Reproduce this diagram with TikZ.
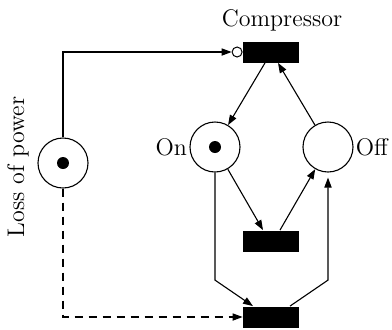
\documentclass[tikz,border=0pt]{standalone}
\usepackage{tikz}
\usetikzlibrary{positioning,arrows.meta,calc}
\definecolor{pnInk}{RGB}{0,0,0}
\tikzset{
    base/.style={font=\fontsize{12}{14}\selectfont, text=pnInk},
    place/.style={circle, draw=pnInk, line width=0.55pt, fill=white,
                  minimum size=25pt, inner sep=0pt},
    token/.style={circle, fill=pnInk, minimum size=6pt, inner sep=0pt},
    transition/.style={rectangle, fill=pnInk, minimum width=28pt,
                       minimum height=10.5pt, inner sep=0pt},
    inhibitor/.style={circle, draw=pnInk, line width=0.5pt, fill=white,
                      minimum size=5pt, inner sep=0pt},
    arc/.style={-{Triangle[length=5pt,width=3.6pt]}, line width=0.55pt, color=pnInk},
    reset/.style={arc, dash pattern=on 4pt off 3pt},
    label/.style={base, inner sep=1pt}
}
\begin{document}
\begin{tikzpicture}[x=0.5pt, y=-0.5pt]
  \useasboundingbox (0,0) rectangle (392,329);

  % Places
  \node[place] (loss) at (63,163) {};
  \node[place] (on)   at (215,147) {};
  \node[place] (off)  at (328,147) {};
  \node[token] (lossTok) at (loss) {};
  \node[token] (onTok)   at (on) {};

  % Transitions
  \node[transition] (comp) at (271,52) {};
  \node[transition] (mid)  at (271,241) {};
  \node[transition] (bot)  at (271,317) {};
  \node[inhibitor, left=0pt of comp] (inhib) {};

  % Labels
  \node[label] (compLbl) at (282,20) {Compressor};
  \node[label, left=0pt of on] (onLbl) {On};
  \node[label, right=0pt of off] (offLbl) {Off};
  \node[label, rotate=90] (lossLbl) at (18,167) {Loss of power};

  % Arcs around the compressor
  \draw[arc] ($(comp.south)+(-6,0)$) -- (on);
  \draw[arc] (off) -- ($(comp.south)+(7,0)$);
  \draw[arc] (on) -- ($(mid.north)+(-8,0)$);
  \draw[arc] ($(mid.north)+(9,0)$) -- (off);

  % Arcs through the lower transition
  \draw[arc] (on.south) -- ($(on.south |- bot.north)+(0,-26)$)
                        -- ($(bot.north)+(-18,0)$);
  \draw[arc] ($(bot.north)+(19,0)$) -- ($(off.south |- bot.north)+(0,-26)$)
                                    -- ($(off.south)+(0,5)$);

  % Loss of power
  \draw[arc] (loss) |- (inhib);
  \draw[reset] (loss) |- (bot);
\end{tikzpicture}
\end{document}
